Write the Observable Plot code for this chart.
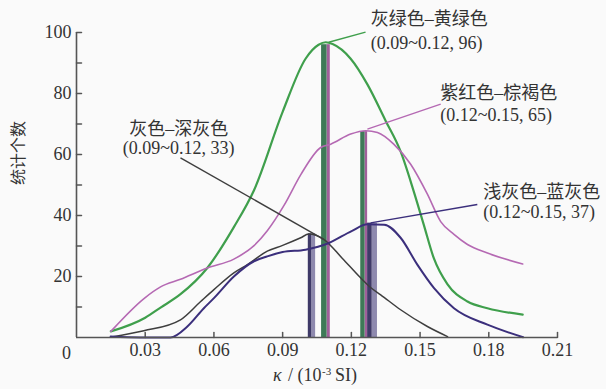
<!DOCTYPE html>
<html><head><meta charset="utf-8">
<script src="https://cdn.jsdelivr.net/npm/d3@7"></script>
<script src="https://cdn.jsdelivr.net/npm/@observablehq/plot@0.6"></script>
<style>
html,body{margin:0;padding:0;background:#fafafa;}
</style></head><body><div id="chart"></div>
<script>
// ---- data ----
const seriesNames = ["灰绿色–黄绿色", "紫红色–棕褐色", "灰色–深灰色", "浅灰色–蓝灰色"];
const greenX = [0.015, 0.03, 0.0367, 0.0454, 0.0571, 0.0687, 0.0775, 0.09, 0.1, 0.1057, 0.1088, 0.1118, 0.1197, 0.127, 0.135, 0.1415, 0.1472, 0.1516, 0.156, 0.162, 0.1707, 0.1794, 0.1948];
const greenY = [2, 6.5, 9.8, 14.2, 22.8, 36.2, 48.3, 74, 91.4, 96, 96.8, 96.2, 91.4, 83, 71, 61, 48, 37, 26, 17.4, 11.8, 9.6, 7.5];
const magentaX = [0.015, 0.03, 0.0367, 0.0454, 0.0571, 0.0687, 0.0775, 0.0833, 0.0906, 0.098, 0.1066, 0.111, 0.1197, 0.1263, 0.1314, 0.1385, 0.1459, 0.1532, 0.159, 0.1648, 0.1707, 0.1794, 0.1948];
const magentaY = [2, 13.1, 16.6, 19.1, 22.8, 25.7, 30.1, 35, 43.3, 53.5, 62.3, 63.4, 66.7, 67.8, 67.2, 63.4, 56.8, 47, 38, 33.8, 30.5, 27.7, 24.1];
const blackX = [0.0153, 0.0294, 0.0454, 0.0542, 0.06, 0.0687, 0.0746, 0.0833, 0.09, 0.0979, 0.1014, 0.1079, 0.116, 0.1241, 0.1284, 0.1328, 0.1415, 0.1532, 0.162];
const blackY = [0.2, 2.2, 5.8, 11.8, 15.7, 21.2, 23.9, 28.3, 30.2, 32.7, 33.9, 32.2, 26, 19.5, 16.4, 14, 9.1, 3.6, 0.3];
const navyX = [0.0149, 0.028, 0.041, 0.0484, 0.0556, 0.06, 0.0687, 0.0775, 0.0833, 0.09, 0.1, 0.1102, 0.1201, 0.127, 0.1343, 0.1415, 0.1488, 0.1561, 0.1648, 0.1794, 0.195];
const navyY = [0.3, 0, 0, 3.6, 9.6, 12.9, 20, 25, 26.6, 28, 28.8, 31, 34.9, 37.1, 37, 32.7, 23.9, 16.2, 9.6, 4.2, 0.1];

// mode bars (two-tone): left part, split, right part, top value
const barStart = [0.1012, 0.1070, 0.1241, 0.1271];
const barSplit = [0.1027, 0.1094, 0.1260, 0.1291];
const barEnd   = [0.1044, 0.1108, 0.1271, 0.1314];
const barTop   = [34, 96, 67.5, 37.5];
const barKind  = ["navy", "green", "green", "navy"];

const xTickValues = [0.03, 0.06, 0.09, 0.12, 0.15, 0.18, 0.21];
const yTickValues = [20, 40, 60, 80, 100];
const yMinorValues = [10, 30, 50, 70, 90];

const labelLine1 = ["灰绿色–黄绿色", "紫红色–棕褐色", "灰色–深灰色", "浅灰色–蓝灰色"];
const labelLine2 = ["(0.09~0.12, 96)", "(0.12~0.15, 65)", "(0.09~0.12, 33)", "(0.12~0.15, 37)"];

// ---- styling / layout ----
const colors = {green: "#3f9f4c", magenta: "#b569b3", black: "#3e3e3e", navy: "#3b2f7c"};
const widths = {green: 2.2, magenta: 1.6, black: 1.5, navy: 2};
const barDark = {green: "#3e7a57", navy: "#3f3a68"};
const barLight = {green: "#a0609a", navy: "#8e89ae"};

const curves = [
  {key: "green", xs: greenX, ys: greenY},
  {key: "magenta", xs: magentaX, ys: magentaY},
  {key: "black", xs: blackX, ys: blackY},
  {key: "navy", xs: navyX, ys: navyY}
];
const rows = curves.flatMap(c => c.xs.map((x, i) => ({key: c.key, x, y: c.ys[i]})));
const bars = barStart.map((s, i) => ({s, m: barSplit[i], e: barEnd[i], top: barTop[i], kind: barKind[i]}));

// annotation placement (label block + leader)
const ann = [
  {key: "green",   tx: 0.1285, y1: 104.2, y2: 96.6, anchor: "start",  lx1: 0.1101, ly1: 96.8, lx2: 0.1262, ly2: 100.1},
  {key: "magenta", tx: 0.1588, y1: 80.0, y2: 73.0,  anchor: "start",  lx1: 0.127,  ly1: 68.3, lx2: 0.159,  ly2: 76.5},
  {key: "black",   tx: 0.0446, y1: 68.2, y2: 61.9,  anchor: "middle", lx1: 0.0454, ly1: 58.9, lx2: 0.1079, ly2: 32.2},
  {key: "navy",    tx: 0.1776, y1: 47.6, y2: 41.0,  anchor: "start",  lx1: 0.1284, ly1: 37.6, lx2: 0.175,  ly2: 43.6}
].map((a, i) => ({...a, l1: labelLine1[i], l2: labelLine2[i]}));
const annStart = ann.filter(a => a.anchor === "start");
const annMid = ann.filter(a => a.anchor === "middle");

const tickShape = {draw(context, l) { context.moveTo(0, 0); context.lineTo(0, -l); }};
const axisColor = "#555";
const serif = "'Liberation Serif', 'Noto Sans CJK SC', serif";
const labelOpts = {fontSize: 18, fill: "#333"};
const titleOpts = {frameAnchor: "bottom", textAnchor: "start", fill: "#333", fontFamily: "'Liberation Serif', serif"};

const chart = Plot.plot({
  width: 606,
  height: 389,
  marginLeft: 76,
  marginRight: 49,
  marginTop: 32,
  marginBottom: 52,
  style: {background: "#fafafa", fontFamily: serif, fontSize: "18px", color: "#333", overflow: "visible"},
  x: {domain: [0, 0.21]},
  y: {domain: [0, 100]},
  marks: [
    // bars
    Plot.rect(bars, {x1: "m", x2: "e", y1: 0, y2: "top", fill: d => barLight[d.kind]}),
    Plot.rect(bars, {x1: "s", x2: "m", y1: 0, y2: "top", fill: d => barDark[d.kind]}),
    // curves
    ...curves.map(c => Plot.line(rows.filter(r => r.key === c.key), {
      x: "x", y: "y", stroke: colors[c.key], strokeWidth: widths[c.key], curve: "monotone-x"
    })),
    // leader lines
    Plot.link(ann, {x1: "lx1", y1: "ly1", x2: "lx2", y2: "ly2", stroke: d => colors[d.key], strokeWidth: 1.4}),
    // labels
    Plot.text(annStart, {x: "tx", y: "y1", text: "l1", textAnchor: "start", ...labelOpts}),
    Plot.text(annStart, {x: "tx", y: "y2", text: "l2", textAnchor: "start", ...labelOpts}),
    Plot.text(annMid, {x: "tx", y: "y1", text: "l1", textAnchor: "middle", ...labelOpts}),
    Plot.text(annMid, {x: "tx", y: "y2", text: "l2", textAnchor: "middle", ...labelOpts}),
    // axes lines
    Plot.ruleX([0], {stroke: axisColor, strokeWidth: 1.6}),
    Plot.ruleY([0], {stroke: axisColor, strokeWidth: 1.6}),
    // inward ticks
    Plot.vector(yTickValues.concat(yMinorValues), {x: 0, y: d => d, rotate: 90, length: 5, anchor: "start", shape: tickShape, stroke: axisColor, strokeWidth: 1.5}),
    Plot.vector(xTickValues, {x: d => d, y: 0, rotate: 0, length: 5, anchor: "start", shape: tickShape, stroke: axisColor, strokeWidth: 1.5}),
    Plot.axisY({ticks: yTickValues, tickSize: 0, tickPadding: 5, fontSize: 18, label: null}),
    Plot.axisX({ticks: xTickValues, tickSize: 0, tickPadding: 6, fontSize: 18, label: null, tickFormat: d3.format(".2f")}),
    Plot.text([0], {x: 0, y: 0, text: () => "0", dx: -10, dy: 16, ...labelOpts}),
    // axis titles
    Plot.text(["统计个数"], {frameAnchor: "left", dx: -58, rotate: -90, fontSize: 16, fill: "#333", fontFamily: "'Noto Sans CJK SC', sans-serif"}),
    Plot.text(["κ"], {...titleOpts, dx: -44, dy: 43, fontSize: 18, fontStyle: "italic"}),
    Plot.text(["/ (10"], {...titleOpts, dx: -29, dy: 43, fontSize: 18}),
    Plot.text(["-3"], {...titleOpts, dx: 5, dy: 37, fontSize: 11}),
    Plot.text(["SI)"], {...titleOpts, dx: 18, dy: 43, fontSize: 18})
  ]
});
document.getElementById("chart").appendChild(chart);
</script></body></html>
